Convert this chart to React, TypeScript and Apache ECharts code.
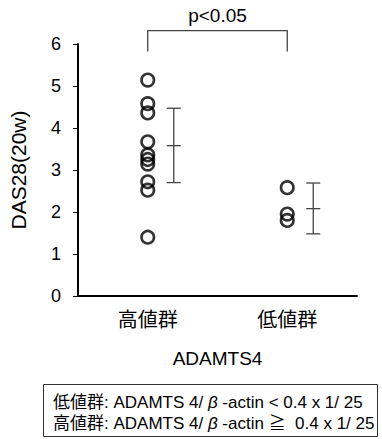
import React, { useEffect, useRef } from "react";
import * as echarts from "echarts";

const categories = ["高値群", "低値群"];
const highValues = [5.14, 4.58, 4.36, 3.67, 3.36, 3.25, 3.14, 2.72, 2.52, 1.4];
const lowValues = [2.58, 1.95, 1.8];
// [category index, mean, lower, upper]
const errorBars = [
  [0, 3.58, 2.7, 4.47],
  [1, 2.08, 1.48, 2.69],
];
const yTicks = [0, 1, 2, 3, 4, 5, 6];
const bracket = [[0, 1, 6.32, 5.82]];
const pText = "p<0.05";
const legendLines = [
  "低値群: ADAMTS 4/ {b|β} -actin < 0.4 x 1/ 25",
  "高値群: ADAMTS 4/ {b|β} -actin ≧  0.4 x 1/ 25",
];

const FONT = "'Liberation Sans', Arial, 'Noto Sans CJK JP', sans-serif";

export default function App() {
  const ref = useRef<HTMLDivElement>(null);
  useEffect(() => {
    if (!ref.current) return;
    const chart = echarts.init(ref.current, null, { renderer: "svg" });
    const option: any = {
      animation: false,
      backgroundColor: "#ffffff",
      grid: { left: 70, right: 25, top: 44, bottom: 143 },
      xAxis: {
        type: "category",
        data: categories,
        name: "ADAMTS4",
        nameLocation: "middle",
        nameGap: 53,
        nameTextStyle: { fontFamily: FONT, fontSize: 19, color: "#000" },
        axisLine: { lineStyle: { color: "#000", width: 2 } },
        axisTick: { alignWithLabel: true, length: 5, lineStyle: { color: "#000", width: 1 } },
        axisLabel: { fontFamily: FONT, fontSize: 20, color: "#000", margin: 14 },
      },
      yAxis: {
        type: "value",
        min: yTicks[0],
        max: yTicks[yTicks.length - 1],
        interval: 1,
        name: "DAS28(20w)",
        nameLocation: "middle",
        nameGap: 49,
        nameTextStyle: { fontFamily: FONT, fontSize: 21, color: "#000" },
        axisLine: { show: true, lineStyle: { color: "#000", width: 2 } },
        axisTick: { show: true, length: 5, lineStyle: { color: "#000", width: 1 } },
        axisLabel: { fontFamily: FONT, fontSize: 18, color: "#000", margin: 17 },
        splitLine: { show: false },
      },
      series: [
        {
          type: "scatter",
          data: highValues.map((v) => [0, v]),
          symbol: "circle",
          symbolSize: 12.5,
          itemStyle: { color: "rgba(0,0,0,0)", borderColor: "#000", borderWidth: 2.6 },
        },
        {
          type: "scatter",
          data: lowValues.map((v) => [1, v]),
          symbol: "circle",
          symbolSize: 12.5,
          itemStyle: { color: "rgba(0,0,0,0)", borderColor: "#000", borderWidth: 2.6 },
        },
        {
          type: "custom",
          data: errorBars,
          renderItem: (params: any, api: any) => {
            const ci = api.value(0);
            const m = api.coord([ci, api.value(1)]);
            const lo = api.coord([ci, api.value(2)]);
            const hi = api.coord([ci, api.value(3)]);
            const x = m[0] + 26;
            const hw = 7;
            const st = { stroke: "#444", lineWidth: 1.3 };
            return {
              type: "group",
              children: [
                { type: "line", shape: { x1: x, y1: lo[1], x2: x, y2: hi[1] }, style: st },
                { type: "line", shape: { x1: x - hw, y1: hi[1], x2: x + hw, y2: hi[1] }, style: st },
                { type: "line", shape: { x1: x - hw, y1: m[1], x2: x + hw, y2: m[1] }, style: st },
                { type: "line", shape: { x1: x - hw, y1: lo[1], x2: x + hw, y2: lo[1] }, style: st },
              ],
            };
          },
        },
        {
          type: "custom",
          data: bracket,
          clip: false,
          renderItem: (params: any, api: any) => {
            const a = api.coord([api.value(0), api.value(2)]);
            const b = api.coord([api.value(1), api.value(2)]);
            const a2 = api.coord([api.value(0), api.value(3)]);
            const b2 = api.coord([api.value(1), api.value(3)]);
            const st = { stroke: "#444", lineWidth: 1.3, fill: "none" };
            return {
              type: "group",
              children: [
                {
                  type: "polyline",
                  shape: { points: [[a2[0], a2[1]], [a[0], a[1]], [b[0], b[1]], [b2[0], b2[1]]] },
                  style: st,
                },
                {
                  type: "text",
                  style: {
                    text: pText,
                    x: (a[0] + b[0]) / 2,
                    y: a[1] - 6,
                    align: "center",
                    verticalAlign: "bottom",
                    fontFamily: FONT,
                    fontSize: 19,
                    fill: "#000",
                  },
                },
              ],
            };
          },
        },
      ],
      graphic: [
        {
          type: "rect",
          shape: { x: 43.5, y: 384.5, width: 334, height: 52 },
          style: { fill: "none", stroke: "#333", lineWidth: 1 },
        },
        ...legendLines.map((t, i) => ({
          type: "text",
          x: 53,
          y: 402 + i * 21,
          style: {
            text: t,
            fontFamily: FONT,
            fontSize: 17,
            fill: "#000",
            verticalAlign: "middle",
            rich: {
              b: { fontStyle: "italic", fontFamily: FONT, fontSize: 17, fill: "#000" },
            },
          },
        })),
      ],
    };
    chart.setOption(option);
    return () => chart.dispose();
  }, []);
  return (
    <div
      ref={ref}
      style={{ position: "absolute", left: 0, top: 0, width: 382, height: 439 }}
    />
  );
}
